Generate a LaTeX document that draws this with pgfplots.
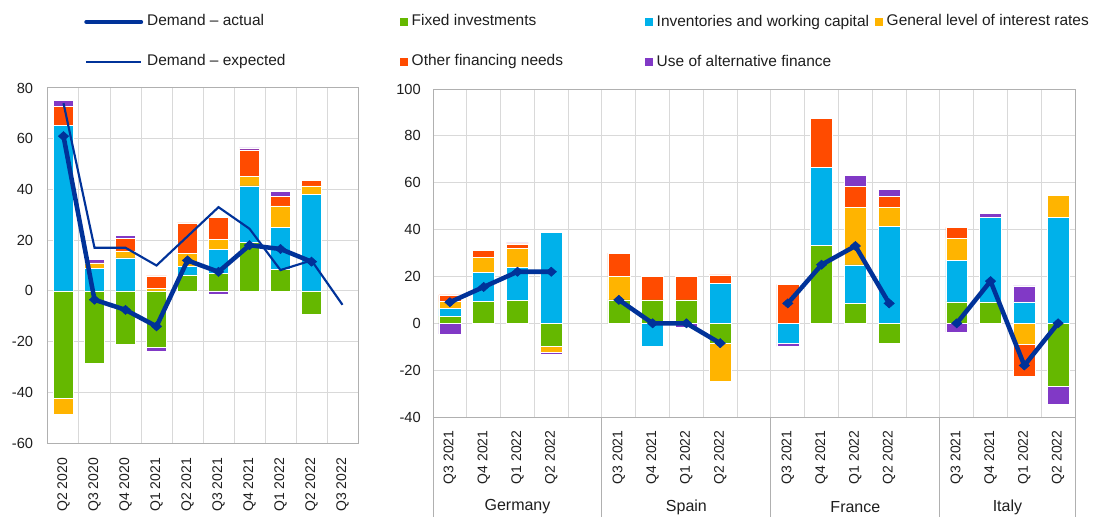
\documentclass[border=0pt]{standalone}
\usepackage{pgfplots}
\pgfplotsset{compat=1.18}
\usepackage{pgfplotstable}
\usepackage{fontspec}
\setmainfont{Liberation Sans}
\definecolor{cL}{HTML}{003299}
\definecolor{cB}{HTML}{00B1EA}
\definecolor{cY}{HTML}{FFB400}
\definecolor{cR}{HTML}{FF4B00}
\definecolor{cG}{HTML}{65B800}
\definecolor{cP}{HTML}{8139C6}
\definecolor{gridc}{HTML}{D9D9D9}
\definecolor{axc}{HTML}{B0B0B0}
\definecolor{txt}{HTML}{1E1E1E}

% left panel: positive and negative contributions
\pgfplotstableread{
x G B Y R P
0 0 65.4 0 7.3 2.5
1 0 9 2 0 1.4
2 0 13 2.8 5 1
3 0 0 1 4.9 0
4 6.3 3.2 5.3 12 0
5 6.9 9.4 4.1 8.5 0
6 19 22.4 3.7 10.5 0.8
7 8.5 16.5 8.5 3.8 2
8 0 38 3.4 2.1 0
}\LP
\pgfplotstableread{
x G B Y R P
0 -42.5 0 -6.1 0 0
1 -28.4 0 0 0 0
2 -20.9 0 0 0 0
3 -22.2 0 0 0 -1.5
4 0 0 0 0 0
5 0 0 0 0 -1.5
6 0 0 0 0 0
7 0 0 0 0 0
8 -9.2 0 0 0 0
}\LN
% right panel
\pgfplotstableread{
x G B Y R P
0 3.1 3.2 3.0 2.8 0
1 9.3 12.4 6.4 3.0 0.6
2 9.7 14.2 8.2 1.8 0.4
3 0 38.7 0 0 0
5 10 0 10 10 0
6 10 0 0 10 0
7 10 0 0 10 0
8 0 16.9 0 3.8 0
10 0 0 0 16.6 0
11 33.1 33.5 0 20.8 0
12 8.4 16.5 24.5 9 4.7
13 0 41.3 8.3 4.5 3.2
15 9.1 17.9 9.3 4.6 0
16 9.1 36.2 0 0 1.7
17 0 9.1 0 0 6.9
18 0 45.3 9.3 0 0
}\RP
\pgfplotstableread{
x G B Y R P
0 0 0 0 0 -4.5
1 0 0 0 0 0
2 0 0 0 0 0
3 -9.6 0 -2.9 0 -0.8
5 0 0 0 0 0
6 0 -10 0 0 0
7 0 0 0 0 -1.5
8 -8.6 0 -16 0 0
10 0 -8.4 0 0 -1.5
11 0 0 0 0 0
12 0 0 0 0 0
13 -8.5 0 0 0 0
15 0 0 0 0 -3.7
16 0 0 0 0 0
17 0 0 -9 -13.5 0
18 -27 0 0 0 -7.5
}\RN

\pgfplotsset{
  base/.style={scale only axis, clip=false, anchor=south west,
    /pgf/number format/assume math mode=true,
    yticklabel style={font=\fontsize{11}{13}\selectfont, text=txt},
    xticklabel style={font=\fontsize{10.5}{12.6}\selectfont, text=txt},
    major tick length=0pt, minor tick length=0pt},
  common/.style={base, ybar stacked, bar width=0.65},
  vis/.style={axis line style={axc, line width=0.75pt}, ymajorgrids, xminorgrids,
    grid style={gridc, line width=0.75pt}, minor grid style={gridc, line width=0.75pt},
    xticklabel style={rotate=90, anchor=east, inner sep=0pt}},
  leftax/.style={at={(36pt,-332.25pt)}, width=232.5pt, height=266.25pt,
    xmin=-0.5, xmax=9.5, ymin=-60, ymax=80},
  rightax/.style={at={(324.75pt,-312.75pt)}, width=481.5pt, height=246pt,
    xmin=-0.5, xmax=18.5, ymin=-40, ymax=100},
  bs/.style={draw=white, line width=0.4pt},
  leg/.style={legend style={at={(0,1)}, anchor=north west, draw=none, fill=none,
    inner sep=0pt, row sep=18pt, column sep=3pt,
    font=\fontsize{11.6}{14}\selectfont, text=txt,
    nodes={inner sep=0pt, text height=9pt, text depth=3pt}}, legend cell align=left},
  sqG/.style={legend image code/.code={\fill[cG] (0pt,-2.6pt) rectangle (5.2pt,2.6pt);}},
  sqB/.style={legend image code/.code={\fill[cB] (0pt,-2.6pt) rectangle (5.2pt,2.6pt);}},
  sqY/.style={legend image code/.code={\fill[cY] (0pt,-2.6pt) rectangle (5.2pt,2.6pt);}},
  sqR/.style={legend image code/.code={\fill[cR] (0pt,-2.6pt) rectangle (5.2pt,2.6pt);}},
  sqP/.style={legend image code/.code={\fill[cP] (0pt,-2.6pt) rectangle (5.2pt,2.6pt);}},
  lnA/.style={legend image code/.code={\draw[cL, line width=3.2pt, line cap=round] (0pt,0pt) -- (41pt,0pt);}},
  lnE/.style={legend image code/.code={\draw[cL, line width=1.6pt] (0pt,0pt) -- (41pt,0pt);}},
  act/.style={cL, line width=3.4pt, mark=diamond*, mark size=3.4pt,
    mark options={solid, xscale=1.5, fill=cL, draw=cL, line width=0.5pt}},
}

\begin{document}%
\fontsize{12}{14.4}\selectfont%
\begin{tikzpicture}
\useasboundingbox (0pt,0pt) rectangle (828.75pt,-387.75pt);

% ---------- left panel, positive parts ----------
\begin{axis}[common, vis, leftax, leg,
  legend style={xshift=27pt, yshift=55.7pt},
  ytick={-60,-40,...,80},
  yticklabel style={inner sep=0pt, xshift=-11pt},
  xtick={0,...,9},
  xticklabels={Q2 2020,Q3 2020,Q4 2020,Q1 2021,Q2 2021,Q3 2021,Q4 2021,Q1 2022,Q2 2022,Q3 2022},
  xticklabel shift=11pt,
  minor xtick={0.5,1.5,...,8.5}]
\addlegendimage{lnA}\addlegendentry{Demand – actual}
\addlegendimage{lnE}\addlegendentry{Demand – expected}
\addplot[bs, fill=cG] table[x=x,y=G]{\LP};
\addplot[bs, fill=cB] table[x=x,y=B]{\LP};
\addplot[bs, fill=cY] table[x=x,y=Y]{\LP};
\addplot[bs, fill=cR] table[x=x,y=R]{\LP};
\addplot[bs, fill=cP] table[x=x,y=P]{\LP};
\end{axis}

% ---------- left panel, negative parts ----------
\begin{axis}[common, hide axis, leftax, leg,
  legend style={xshift=264pt, yshift=55.7pt}]
\addlegendimage{sqG}\addlegendentry{Fixed investments}
\addlegendimage{sqR}\addlegendentry{Other financing needs}
\addplot[bs, fill=cG] table[x=x,y=G]{\LN};
\addplot[bs, fill=cB] table[x=x,y=B]{\LN};
\addplot[bs, fill=cY] table[x=x,y=Y]{\LN};
\addplot[bs, fill=cR] table[x=x,y=R]{\LN};
\addplot[bs, fill=cP] table[x=x,y=P]{\LN};
\end{axis}

% ---------- left panel, lines ----------
\begin{axis}[base, hide axis, leftax]
\addplot[cL, line width=1.6pt, mark=none] coordinates {
(0,74) (1,17) (2,17) (3,10) (4,21.5) (5,33) (6,24.5) (7,8.2) (8,12) (9,-5.5)};
\addplot[act] coordinates {
(0,61) (1,-3.5) (2,-7.5) (3,-14) (4,12) (5,7.5) (6,18) (7,16.5) (8,11.5)};
\end{axis}

% ---------- right panel, positive parts ----------
\begin{axis}[common, vis, rightax, leg,
  legend style={xshift=159pt, yshift=56.45pt},
  ytick={-40,-20,...,100},
  yticklabel style={inner sep=0pt, xshift=-9pt},
  xtick={0,1,2,3,5,6,7,8,10,11,12,13,15,16,17,18},
  xticklabels={Q3 2021,Q4 2021,Q1 2022,Q2 2022,Q3 2021,Q4 2021,Q1 2022,Q2 2022,Q3 2021,Q4 2021,Q1 2022,Q2 2022,Q3 2021,Q4 2021,Q1 2022,Q2 2022},
  xticklabel shift=10pt,
  minor xtick={0.5,1.5,...,17.5}]
\addlegendimage{sqB}\addlegendentry{Inventories and working capital}
\addlegendimage{sqP}\addlegendentry{Use of alternative finance}
\addplot[bs, fill=cG] table[x=x,y=G]{\RP};
\addplot[bs, fill=cB] table[x=x,y=B]{\RP};
\addplot[bs, fill=cY] table[x=x,y=Y]{\RP};
\addplot[bs, fill=cR] table[x=x,y=R]{\RP};
\addplot[bs, fill=cP] table[x=x,y=P]{\RP};
\foreach \s in {-0.5,4.5,9.5,14.5,18.5}{
  \edef\temp{\noexpand\draw[axc, line width=0.75pt] (axis cs:\s,-40) -- ++(0pt,-75pt);}\temp
}
\node[text=txt] at (axis cs:2,-40) [yshift=-67.5pt] {Germany};
\node[text=txt] at (axis cs:7,-40) [yshift=-67.5pt] {Spain};
\node[text=txt] at (axis cs:12,-40) [yshift=-67.5pt] {France};
\node[text=txt] at (axis cs:16.5,-40) [yshift=-67.5pt] {Italy};
\end{axis}

% ---------- right panel, negative parts ----------
\begin{axis}[common, hide axis, rightax, leg,
  legend style={xshift=331.5pt, yshift=56.45pt}]
\addlegendimage{sqY}\addlegendentry{General level of interest rates}
\addplot[bs, fill=cG] table[x=x,y=G]{\RN};
\addplot[bs, fill=cB] table[x=x,y=B]{\RN};
\addplot[bs, fill=cY] table[x=x,y=Y]{\RN};
\addplot[bs, fill=cR] table[x=x,y=R]{\RN};
\addplot[bs, fill=cP] table[x=x,y=P]{\RN};
\end{axis}

% ---------- right panel, lines ----------
\begin{axis}[base, hide axis, rightax, unbounded coords=jump]
\addplot[act] coordinates {
(0,9) (1,15.5) (2,22) (3,22) (4,nan)
(5,10) (6,0) (7,0) (8,-8.5) (9,nan)
(10,8.5) (11,25) (12,33) (13,8.5) (14,nan)
(15,0) (16,18) (17,-18) (18,0)};
\end{axis}
\end{tikzpicture}
\end{document}
